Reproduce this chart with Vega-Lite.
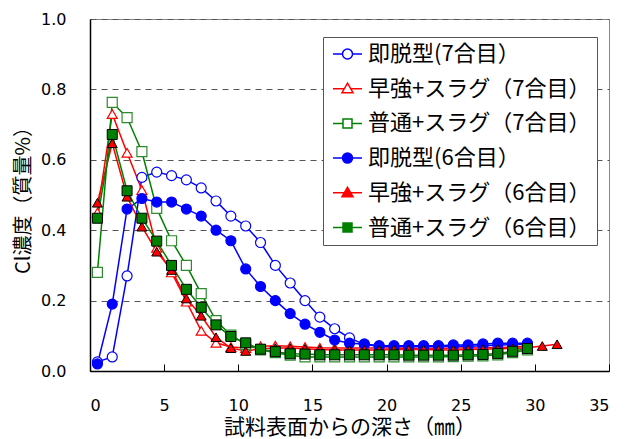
{
  "$schema": "https://vega.github.io/schema/vega-lite/v6.json",
  "width": 519,
  "height": 352,
  "autosize": {"type": "none"},
  "padding": {"left": 90, "top": 19, "right": 21, "bottom": 68},
  "config": {
    "view": {"stroke": "#888", "strokeWidth": 1},
    "font": "DejaVu Sans"
  },
  "data": {
    "values": [
      {"depth": 0.5, "即脱型(7合目）": 0.026, "早強+スラグ（7合目）": 0.45, "普通+スラグ（7合目）": 0.28, "即脱型(6合目）": 0.02, "早強+スラグ（6合目）": 0.478, "普通+スラグ（6合目）": 0.434},
      {"depth": 1.5, "即脱型(7合目）": 0.04, "早強+スラグ（7合目）": 0.73, "普通+スラグ（7合目）": 0.763, "即脱型(6合目）": 0.19, "早強+スラグ（6合目）": 0.647, "普通+スラグ（6合目）": 0.672},
      {"depth": 2.5, "即脱型(7合目）": 0.27, "早強+スラグ（7合目）": 0.62, "普通+スラグ（7合目）": 0.72, "即脱型(6合目）": 0.46, "早強+スラグ（6合目）": 0.495, "普通+スラグ（6合目）": 0.512},
      {"depth": 3.5, "即脱型(7合目）": 0.55, "早強+スラグ（7合目）": 0.514, "普通+スラグ（7合目）": 0.623, "即脱型(6合目）": 0.49, "早強+スラグ（6合目）": 0.41, "普通+スラグ（6合目）": 0.434},
      {"depth": 4.5, "即脱型(7合目）": 0.565, "早強+スラグ（7合目）": 0.35, "普通+スラグ（7合目）": 0.462, "即脱型(6合目）": 0.48, "早強+スラグ（6合目）": 0.339, "普通+スラグ（6合目）": 0.369},
      {"depth": 5.5, "即脱型(7合目）": 0.555, "早強+スラグ（7合目）": 0.28, "普通+スラグ（7合目）": 0.37, "即脱型(6合目）": 0.48, "早強+スラグ（6合目）": 0.287, "普通+スラグ（6合目）": 0.30},
      {"depth": 6.5, "即脱型(7合目）": 0.543, "早強+スラグ（7合目）": 0.197, "普通+スラグ（7合目）": 0.30, "即脱型(6合目）": 0.46, "早強+スラグ（6合目）": 0.206, "普通+スラグ（6合目）": 0.232},
      {"depth": 7.5, "即脱型(7合目）": 0.52, "早強+スラグ（7合目）": 0.114, "普通+スラグ（7合目）": 0.22, "即脱型(6合目）": 0.44, "早強+スラグ（6合目）": 0.157, "普通+スラグ（6合目）": 0.181},
      {"depth": 8.5, "即脱型(7合目）": 0.483, "早強+スラグ（7合目）": 0.08, "普通+スラグ（7合目）": 0.143, "即脱型(6合目）": 0.40, "早強+スラグ（6合目）": 0.096, "普通+スラグ（6合目）": 0.131},
      {"depth": 9.5, "即脱型(7合目）": 0.44, "早強+スラグ（7合目）": 0.068, "普通+スラグ（7合目）": 0.102, "即脱型(6合目）": 0.37, "早強+スラグ（6合目）": 0.065, "普通+スラグ（6合目）": 0.098},
      {"depth": 10.5, "即脱型(7合目）": 0.412, "早強+スラグ（7合目）": 0.065, "普通+スラグ（7合目）": 0.075, "即脱型(6合目）": 0.29, "早強+スラグ（6合目）": 0.057, "普通+スラグ（6合目）": 0.08},
      {"depth": 11.5, "即脱型(7合目）": 0.365, "早強+スラグ（7合目）": 0.07, "普通+スラグ（7合目）": 0.06, "即脱型(6合目）": 0.24, "早強+スラグ（6合目）": 0.063, "普通+スラグ（6合目）": 0.062},
      {"depth": 12.5, "即脱型(7合目）": 0.30, "早強+スラグ（7合目）": 0.072, "普通+スラグ（7合目）": 0.052, "即脱型(6合目）": 0.20, "早強+スラグ（6合目）": 0.065, "普通+スラグ（6合目）": 0.055},
      {"depth": 13.5, "即脱型(7合目）": 0.25, "早強+スラグ（7合目）": 0.07, "普通+スラグ（7合目）": 0.045, "即脱型(6合目）": 0.163, "早強+スラグ（6合目）": 0.065, "普通+スラグ（6合目）": 0.049},
      {"depth": 14.5, "即脱型(7合目）": 0.20, "早強+スラグ（7合目）": 0.068, "普通+スラグ（7合目）": 0.04, "即脱型(6合目）": 0.133, "早強+スラグ（6合目）": 0.063, "普通+スラグ（6合目）": 0.048},
      {"depth": 15.5, "即脱型(7合目）": 0.153, "早強+スラグ（7合目）": 0.066, "普通+スラグ（7合目）": 0.04, "即脱型(6合目）": 0.11, "早強+スラグ（6合目）": 0.061, "普通+スラグ（6合目）": 0.046},
      {"depth": 16.5, "即脱型(7合目）": 0.12, "早強+スラグ（7合目）": 0.065, "普通+スラグ（7合目）": 0.04, "即脱型(6合目）": 0.088, "早強+スラグ（6合目）": 0.06, "普通+スラグ（6合目）": 0.046},
      {"depth": 17.5, "即脱型(7合目）": 0.094, "早強+スラグ（7合目）": 0.065, "普通+スラグ（7合目）": 0.04, "即脱型(6合目）": 0.079, "早強+スラグ（6合目）": 0.06, "普通+スラグ（6合目）": 0.046},
      {"depth": 18.5, "即脱型(7合目）": 0.075, "早強+スラグ（7合目）": 0.065, "普通+スラグ（7合目）": 0.04, "即脱型(6合目）": 0.077, "早強+スラグ（6合目）": 0.06, "普通+スラグ（6合目）": 0.046},
      {"depth": 19.5, "即脱型(7合目）": 0.07, "早強+スラグ（7合目）": 0.065, "普通+スラグ（7合目）": 0.04, "即脱型(6合目）": 0.072, "早強+スラグ（6合目）": 0.06, "普通+スラグ（6合目）": 0.046},
      {"depth": 20.5, "即脱型(7合目）": 0.069, "早強+スラグ（7合目）": 0.065, "普通+スラグ（7合目）": 0.04, "即脱型(6合目）": 0.072, "早強+スラグ（6合目）": 0.061, "普通+スラグ（6合目）": 0.046},
      {"depth": 21.5, "即脱型(7合目）": 0.069, "早強+スラグ（7合目）": 0.064, "普通+スラグ（7合目）": 0.04, "即脱型(6合目）": 0.072, "早強+スラグ（6合目）": 0.061, "普通+スラグ（6合目）": 0.045},
      {"depth": 22.5, "即脱型(7合目）": 0.069, "早強+スラグ（7合目）": 0.064, "普通+スラグ（7合目）": 0.04, "即脱型(6合目）": 0.072, "早強+スラグ（6合目）": 0.061, "普通+スラグ（6合目）": 0.045},
      {"depth": 23.5, "即脱型(7合目）": 0.069, "早強+スラグ（7合目）": 0.064, "普通+スラグ（7合目）": 0.04, "即脱型(6合目）": 0.072, "早強+スラグ（6合目）": 0.06, "普通+スラグ（6合目）": 0.045},
      {"depth": 24.5, "即脱型(7合目）": 0.07, "早強+スラグ（7合目）": 0.065, "普通+スラグ（7合目）": 0.041, "即脱型(6合目）": 0.074, "早強+スラグ（6合目）": 0.06, "普通+スラグ（6合目）": 0.045},
      {"depth": 25.5, "即脱型(7合目）": 0.07, "早強+スラグ（7合目）": 0.065, "普通+スラグ（7合目）": 0.042, "即脱型(6合目）": 0.074, "早強+スラグ（6合目）": 0.061, "普通+スラグ（6合目）": 0.046},
      {"depth": 26.5, "即脱型(7合目）": 0.072, "早強+スラグ（7合目）": 0.066, "普通+スラグ（7合目）": 0.043, "即脱型(6合目）": 0.077, "早強+スラグ（6合目）": 0.062, "普通+スラグ（6合目）": 0.047},
      {"depth": 27.5, "即脱型(7合目）": 0.074, "早強+スラグ（7合目）": 0.067, "普通+スラグ（7合目）": 0.046, "即脱型(6合目）": 0.079, "早強+スラグ（6合目）": 0.063, "普通+スラグ（6合目）": 0.05},
      {"depth": 28.5, "即脱型(7合目）": 0.075, "早強+スラグ（7合目）": 0.068, "普通+スラグ（7合目）": 0.052, "即脱型(6合目）": 0.079, "早強+スラグ（6合目）": 0.064, "普通+スラグ（6合目）": 0.056},
      {"depth": 29.5, "即脱型(7合目）": 0.076, "早強+スラグ（7合目）": 0.07, "普通+スラグ（7合目）": 0.06, "即脱型(6合目）": 0.079, "早強+スラグ（6合目）": 0.066, "普通+スラグ（6合目）": 0.064},
      {"depth": 30.5, "即脱型(7合目）": null, "早強+スラグ（7合目）": null, "普通+スラグ（7合目）": null, "即脱型(6合目）": null, "早強+スラグ（6合目）": 0.071, "普通+スラグ（6合目）": null},
      {"depth": 31.5, "即脱型(7合目）": null, "早強+スラグ（7合目）": null, "普通+スラグ（7合目）": null, "即脱型(6合目）": null, "早強+スラグ（6合目）": 0.076, "普通+スラグ（6合目）": null}
    ]
  },
  "transform": [
    {"fold": ["即脱型(7合目）", "早強+スラグ（7合目）", "普通+スラグ（7合目）", "即脱型(6合目）", "早強+スラグ（6合目）", "普通+スラグ（6合目）"], "as": ["series", "value"]},
    {"filter": "datum.value != null"}
  ],
  "encoding": {
    "x": {
      "field": "depth", "type": "quantitative",
      "scale": {"domain": [0, 35], "nice": false},
      "axis": {
        "title": "試料表面からの深さ（㎜）",
        "values": [0, 5, 10, 15, 20, 25, 30, 35],
        "grid": false,
        "domainColor": "black", "domainWidth": 1.5,
        "tickColor": "black", "tickSize": -7, "tickWidth": 1,
        "labelPadding": 33,
        "labelFont": "DejaVu Sans", "labelFontSize": 16, "labelColor": "black",
        "titleFont": "Noto Sans CJK JP", "titleFontSize": 21, "titleFontWeight": "normal", "titleColor": "black",
        "titlePadding": 3
      }
    },
    "y": {
      "field": "value", "type": "quantitative",
      "scale": {"domain": [0, 1], "nice": false},
      "axis": {
        "title": "Cl濃度（質量%）",
        "values": [0, 0.2, 0.4, 0.6, 0.8, 1.0],
        "format": ".1f",
        "grid": true, "gridDash": [6, 5], "gridColor": "#555", "gridWidth": 1.2,
        "ticks": false,
        "domainColor": "black", "domainWidth": 1.5,
        "labelPadding": 24,
        "labelFont": "DejaVu Sans", "labelFontSize": 16, "labelColor": "black",
        "titleFont": "Noto Sans CJK JP", "titleFontSize": 20, "titleFontWeight": "normal", "titleColor": "black",
        "titlePadding": 7
      }
    }
  },
  "layer": [
    {
      "mark": {"type": "line", "strokeWidth": 1.5},
      "encoding": {
        "stroke": {
          "field": "series", "type": "nominal",
          "scale": {
            "domain": ["即脱型(7合目）", "早強+スラグ（7合目）", "普通+スラグ（7合目）", "即脱型(6合目）", "早強+スラグ（6合目）", "普通+スラグ（6合目）"],
            "range": ["#0000ff", "#ff0000", "#008000", "#0000ff", "#ff0000", "#008000"]
          },
          "legend": {
            "orient": "none", "legendX": 233, "legendY": 18,
            "title": null,
            "padding": 6,
            "strokeColor": "#555", "fillColor": "white",
            "labelFont": "Noto Sans CJK JP", "labelFontSize": 22, "labelColor": "black",
            "labelLimit": 400, "labelOffset": 17,
            "symbolSize": 400, "symbolStrokeWidth": 1.5,
            "rowPadding": 12.7,
            "encode": {
              "symbols": {
                "update": {
                  "shape": {"signal": "indexof(datum.value, '即脱型') >= 0 ? 'M-0.7,0L0.25,0M1.25,0L2.2,0M1.25,0A0.5,0.5,0,1,1,0.25,0A0.5,0.5,0,1,1,1.25,0Z' : (indexof(datum.value, '早強') >= 0 ? 'M-0.7,0L0.43,0M1.07,0L2.2,0M0.75,-0.55L1.3,0.4L0.2,0.4Z' : 'M-0.7,0L0.3,0M1.2,0L2.2,0M0.3,-0.45L1.2,-0.45L1.2,0.45L0.3,0.45Z')"},
                  "fill": {"signal": "indexof(datum.value, '6合目') >= 0 ? scale('stroke', datum.value) : '#ffffff'"}
                }
              }
            }
          }
        },
        "detail": {"field": "series"}
      }
    },
    {
      "transform": [{"filter": "datum.series === '即脱型(7合目）'"}],
      "mark": {"type": "point", "shape": "circle", "size": 100, "strokeWidth": 1.2, "stroke": "#0000ff", "fill": "#ffffff", "opacity": 1},
      "encoding": {}
    },
    {
      "transform": [{"filter": "datum.series === '早強+スラグ（7合目）'"}],
      "mark": {"type": "point", "shape": "triangle-up", "size": 100, "strokeWidth": 1.2, "stroke": "#ff0000", "fill": "#ffffff", "opacity": 1},
      "encoding": {}
    },
    {
      "transform": [{"filter": "datum.series === '普通+スラグ（7合目）'"}],
      "mark": {"type": "point", "shape": "square", "size": 100, "strokeWidth": 1.2, "stroke": "#2e8b2e", "fill": "#ffffff", "opacity": 1},
      "encoding": {}
    },
    {
      "transform": [{"filter": "datum.series === '即脱型(6合目）'"}],
      "mark": {"type": "point", "shape": "circle", "size": 100, "strokeWidth": 1.2, "stroke": "#0000ff", "fill": "#0000ff", "opacity": 1},
      "encoding": {}
    },
    {
      "transform": [{"filter": "datum.series === '早強+スラグ（6合目）'"}],
      "mark": {"type": "point", "shape": "triangle-up", "size": 100, "strokeWidth": 1, "stroke": "#000000", "fill": "#ff0000", "opacity": 1},
      "encoding": {}
    },
    {
      "transform": [{"filter": "datum.series === '普通+スラグ（6合目）'"}],
      "mark": {"type": "point", "shape": "square", "size": 100, "strokeWidth": 1, "stroke": "#000000", "fill": "#008000", "opacity": 1},
      "encoding": {}
    }
  ]
}
